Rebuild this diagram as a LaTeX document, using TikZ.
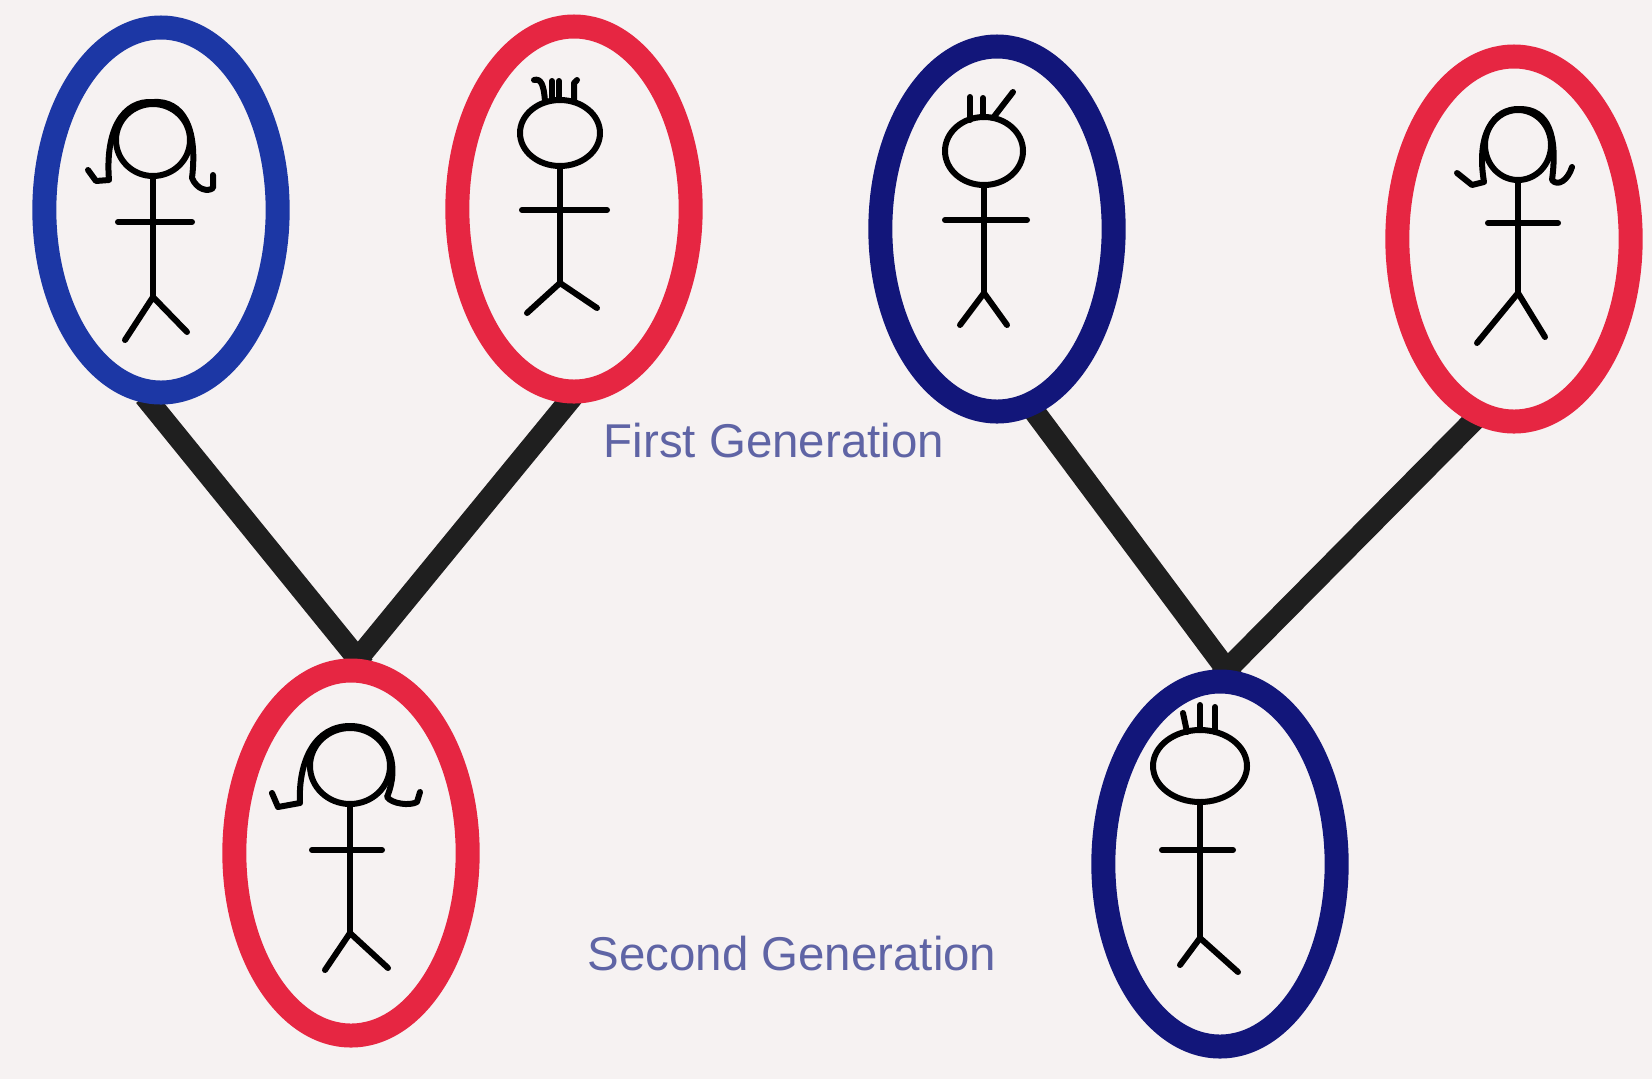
\documentclass[tikz,border=0pt]{standalone}
\usepackage{fontspec}
\setmainfont{Liberation Sans}
\usetikzlibrary{shapes.geometric}

\definecolor{paper}{RGB}{246,242,242}
\definecolor{ringblue}{RGB}{28,55,165}
\definecolor{ringnavy}{RGB}{18,22,122}
\definecolor{ringred}{RGB}{230,38,66}
\definecolor{gentext}{RGB}{95,100,165}

\pgfdeclarelayer{links}
\pgfsetlayers{links,main}

\tikzset{
    ring/.style={draw, ellipse, line width=0.72cm, minimum width=7cm, minimum height=10.95cm, inner sep=0pt},
    bar/.style={line width=0.65cm, black!88, shorten <=-0.3cm, shorten >=-0.3cm},
    limb/.style={line width=0.18cm, line cap=round, line join=round},
    gen/.style={text=gentext, font=\fontsize{40.5}{48}\selectfont, anchor=base}
}

\begin{document}
\begin{tikzpicture}[x=0.03cm, y=-0.03cm]
        \useasboundingbox (0,0) rectangle (1652,1079);

        % the rings
        \node[ring, draw=ringblue] (parentA) at (161,210) {};
        \node[ring, draw=ringred] (parentB) at (574,209) {};
        \node[ring, draw=ringnavy] (parentC) at (997,229) {};
        \node[ring, draw=ringred] (parentD) at (1514,239) {};
        \node[ring, draw=ringred] (childAB) at (351,853) {};
        \node[ring, draw=ringnavy] (childCD) at (1220,864) {};

        % the links, under the rings
        \begin{pgfonlayer}{links}
            \fill[paper] (0,0) rectangle (1652,1079);
            \draw[bar] (parentA.-93) -- (childAB.88);
            \draw[bar] (parentB.-92) -- (childAB.88);
            \draw[bar] (parentC.-78) -- (childCD.88);
            \draw[bar] (parentD.-103) -- (childCD.88);
        \end{pgfonlayer}

        \node[gen] (firstgen) at (774,457) {First Generation};
        \node[gen] (secondgen) at (792,970) {Second Generation};

        % girl in parentA
        \begin{scope}[shift={(153,140)}]
            \draw[limb] (0,0) ellipse (37 and 36);
            \draw[limb] (-65,30) -- (-57,41) -- (-44,40) .. controls (-48,-10) and (-30,-40) .. (0,-38)
                .. controls (30,-40) and (45,-12) .. (39,38) .. controls (44,50) and (55,52) .. (60,48) -- (60,35);
            \draw[limb] (0,36) -- (0,157);
            \draw[limb] (-35,82) -- (39,82);
            \draw[limb] (-28,200) -- (0,157) -- (34,192);
        \end{scope}

        % boy in parentB
        \begin{scope}[shift={(560,133)}]
            \draw[limb] (0,0) ellipse (40 and 33);
            \draw[limb] (-15,-31) .. controls (-16,-48) and (-19,-55) .. (-26,-53);
            \draw[limb] (-8,-33) -- (-8,-52);
            \draw[limb] (-1,-33) -- (-1,-52);
            \draw[limb] (14,-31) -- (14,-50) -- (17,-53);
            \draw[limb] (0,33) -- (0,150);
            \draw[limb] (-38,77) -- (47,77);
            \draw[limb] (-33,180) -- (0,150) -- (37,175);
        \end{scope}

        % boy in parentC
        \begin{scope}[shift={(984,151)}]
            \draw[limb] (0,0) ellipse (39 and 34);
            \draw[limb] (-14,-31) -- (-14,-54);
            \draw[limb] (-1,-34) -- (-1,-53);
            \draw[limb] (9,-33) -- (29,-59);
            \draw[limb] (0,34) -- (0,142);
            \draw[limb] (-39,69) -- (43,69);
            \draw[limb] (-24,174) -- (0,142) -- (23,174);
        \end{scope}

        % girl in parentD
        \begin{scope}[shift={(1518,145)}]
            \draw[limb] (0,0) ellipse (33 and 35);
            \draw[limb] (-61,28) -- (-46,40) -- (-34,37) .. controls (-42,-10) and (-25,-37) .. (2,-36)
                .. controls (30,-36) and (40,-10) .. (34,35) .. controls (40,42) and (50,35) .. (54,22);
            \draw[limb] (0,35) -- (0,148);
            \draw[limb] (-30,78) -- (40,78);
            \draw[limb] (-41,198) -- (0,148) -- (27,192);
        \end{scope}

        % girl in childAB
        \begin{scope}[shift={(350,766)}]
            \draw[limb] (0,0) ellipse (40 and 38);
            \draw[limb] (-78,27) -- (-72,41) -- (-50,37) .. controls (-52,-5) and (-35,-40) .. (0,-40)
                .. controls (35,-40) and (52,-5) .. (37,31) .. controls (42,38) and (60,40) .. (67,36) -- (70,26);
            \draw[limb] (0,38) -- (0,167);
            \draw[limb] (-38,84) -- (32,84);
            \draw[limb] (-25,204) -- (0,167) -- (38,202);
        \end{scope}

        % boy in childCD
        \begin{scope}[shift={(1200,766)}]
            \draw[limb] (0,0) ellipse (47 and 36);
            \draw[limb] (-13,-34) -- (-17,-53);
            \draw[limb] (0,-36) -- (0,-61);
            \draw[limb] (15,-34) -- (15,-59);
            \draw[limb] (0,36) -- (0,172);
            \draw[limb] (-38,84) -- (33,84);
            \draw[limb] (-20,199) -- (0,172) -- (38,206);
        \end{scope}
    \end{tikzpicture}
\end{document}
